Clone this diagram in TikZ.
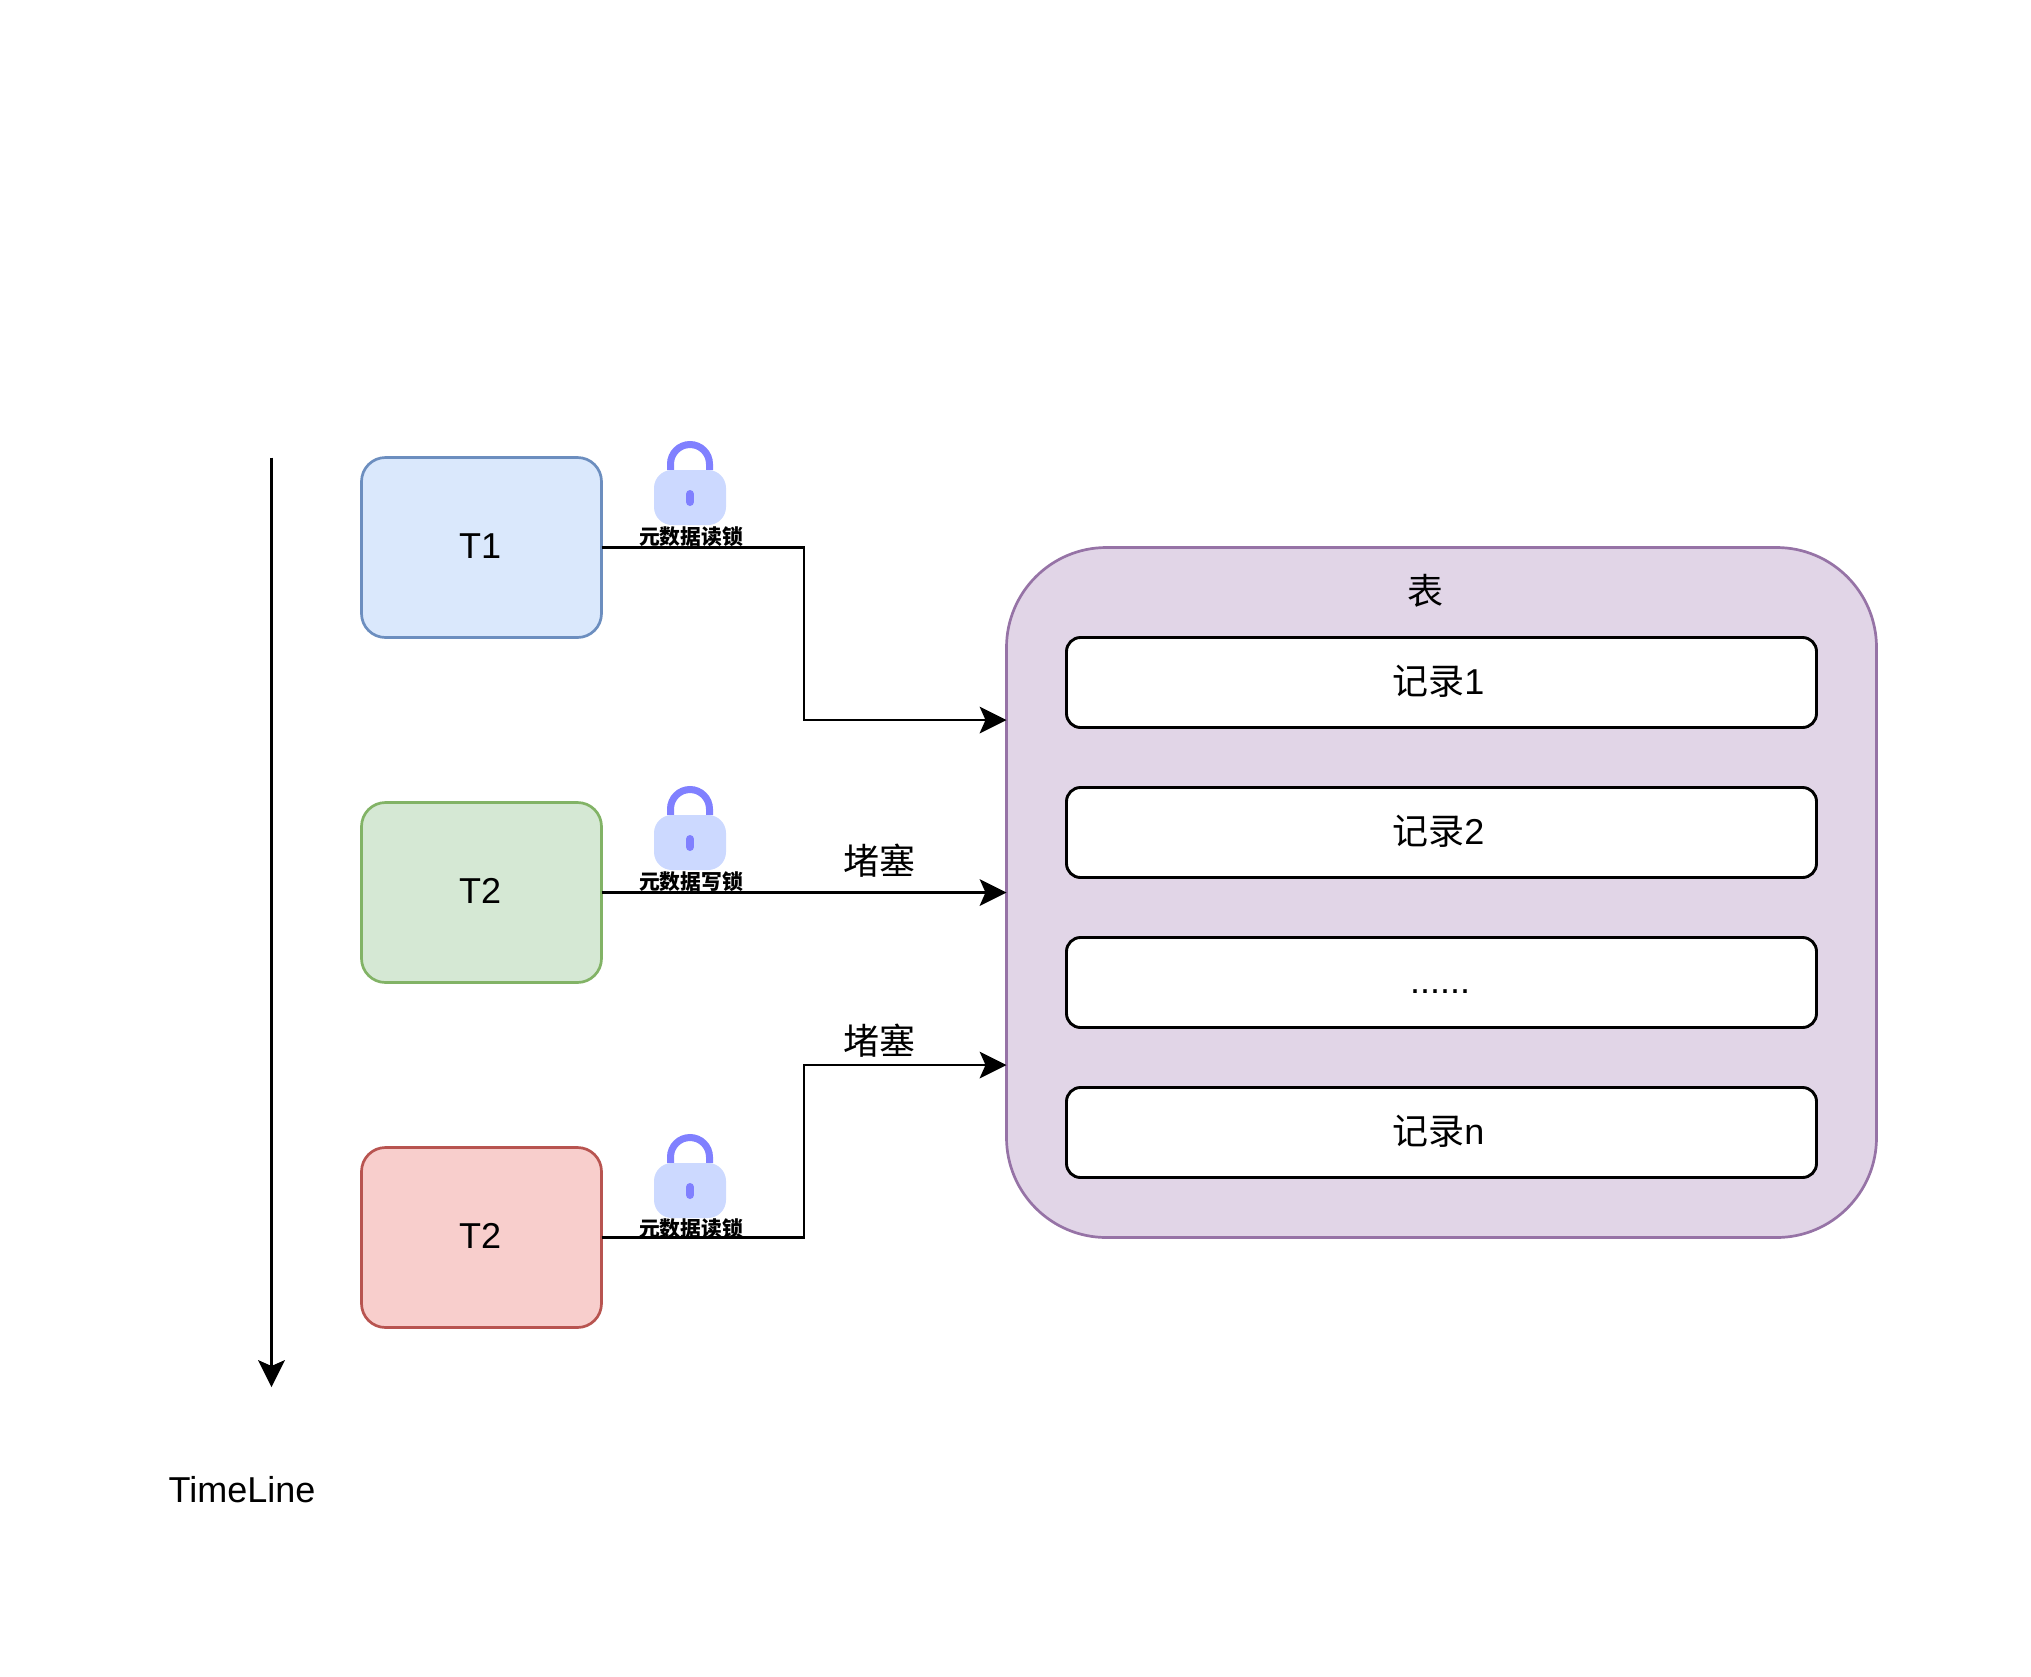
\documentclass[tikz,border=0pt]{standalone}
\usepackage{fontspec}
\setmainfont{Liberation Sans}
\newfontfamily\cjk{Noto Sans CJK SC}
\usetikzlibrary{arrows.meta,calc}
\definecolor{lockbody}{HTML}{CCD9FF}
\definecolor{lockmark}{HTML}{8080FF}
\definecolor{blueF}{HTML}{DAE8FC}\definecolor{blueS}{HTML}{6C8EBF}
\definecolor{greenF}{HTML}{D5E8D4}\definecolor{greenS}{HTML}{82B366}
\definecolor{redF}{HTML}{F8CECC}\definecolor{redS}{HTML}{B85450}
\definecolor{purpleF}{HTML}{E1D5E7}\definecolor{purpleS}{HTML}{9673A6}
% text inside a box: #1 = space kept to its right, #2 = how far the baseline sits below the centre
\newcommand{\placedtext}[3]{\raisebox{-#2}[0pt][0pt]{#3\hspace{#1}}}
\tikzset{
  x=0.5pt,y=-0.5pt,
  conn/.style={draw=black,line width=1.4pt,-{Stealth[length=13.5pt,width=13.5pt,inset=3pt,line width=0pt]}},
  box/.style={draw,rectangle,rounded corners=12pt,line width=1.35pt,minimum width=120pt,minimum height=90pt,outer sep=0pt,inner sep=0pt,font=\fontsize{18}{21}\selectfont},
  rec/.style={draw=black,fill=white,rectangle,rounded corners=7pt,line width=1.45pt,minimum width=375pt,minimum height=45pt,outer sep=0pt,inner sep=0pt,font=\fontsize{18}{21}\selectfont},
  plain/.style={inner sep=0pt,outer sep=0pt,font=\fontsize{18}{21}\selectfont},
  locktext/.style={inner sep=0pt,outer sep=0pt,font=\cjk\bfseries\fontsize{10.4}{12}\selectfont},
  lockicon/.pic={
    \draw[lockmark,line width=3.5pt] (-19.5,0) -- (-19.5,-6) arc[start angle=180,end angle=360,radius=19.5] -- (19.5,0);
    \fill[lockbody,rounded corners=9pt] (-36,0) rectangle (36,55);
    \draw[lockmark,line width=4pt,line cap=round] (0,24) -- (0,32);
  }
}
\begin{document}
\begin{tikzpicture}
\useasboundingbox (0,0) rectangle (2031,1677);
% table and records
\node[box,draw=purpleS,fill=purpleF,minimum width=435pt,minimum height=345pt,rounded corners=50pt] (tbl) at (1441.5,892.5) {};
\node[plain] (tbltitle) at (1425,591) {\cjk 表};
\node[rec] (r1) at (1441.5,682.5) {\placedtext{3.1pt}{5.85pt}{{\cjk 记录}1}};
\node[rec] (r2) at (1441.5,832.5) {\placedtext{3.1pt}{5.85pt}{{\cjk 记录}2}};
\node[rec] (r3) at (1441.5,982.5) {\placedtext{1.5pt}{5.25pt}{......}};
\node[rec] (r4) at (1441.5,1132.5) {\placedtext{3.1pt}{5.85pt}{{\cjk 记录}n}};
% transactions
\node[box,draw=blueS,fill=blueF] (t1) at (481.5,547.5) {\placedtext{1.3pt}{5.3pt}{T1}};
\node[box,draw=greenS,fill=greenF] (t2) at (481.5,892.5) {\placedtext{1.3pt}{5.3pt}{T2}};
\node[box,draw=redS,fill=redF] (t3) at (481.5,1237.5) {\placedtext{1.3pt}{5.3pt}{T2}};
% locks
\pic at (690,470) {lockicon};
\pic at (690,815) {lockicon};
\pic at (690,1163) {lockicon};
\node[locktext] (l1) at (691,537) {元数据读锁};
\node[locktext] (l2) at (691,882) {元数据写锁};
\node[locktext] (l3) at (691,1229) {元数据读锁};
% labels
\node[plain] (b1) at (879,861) {\cjk 堵塞};
\node[plain] (b2) at (879,1041) {\cjk 堵塞};
\node[plain] (tl) at (242,1490) {TimeLine};
% connector ends
\coordinate (in1) at (1006.5,720);
\coordinate (in3) at (1006.5,1065);
\coordinate (ts) at (271.5,457.5);
\coordinate (te) at (271.5,1387);
\draw[conn] (t1.east) -- ++(202.5,0) |- (in1);
\draw[conn] (t2.east) -- (tbl.west);
\draw[conn] (t3.east) -- ++(202.5,0) |- (in3);
\draw[conn] (ts) -- (te);
\end{tikzpicture}
\end{document}
